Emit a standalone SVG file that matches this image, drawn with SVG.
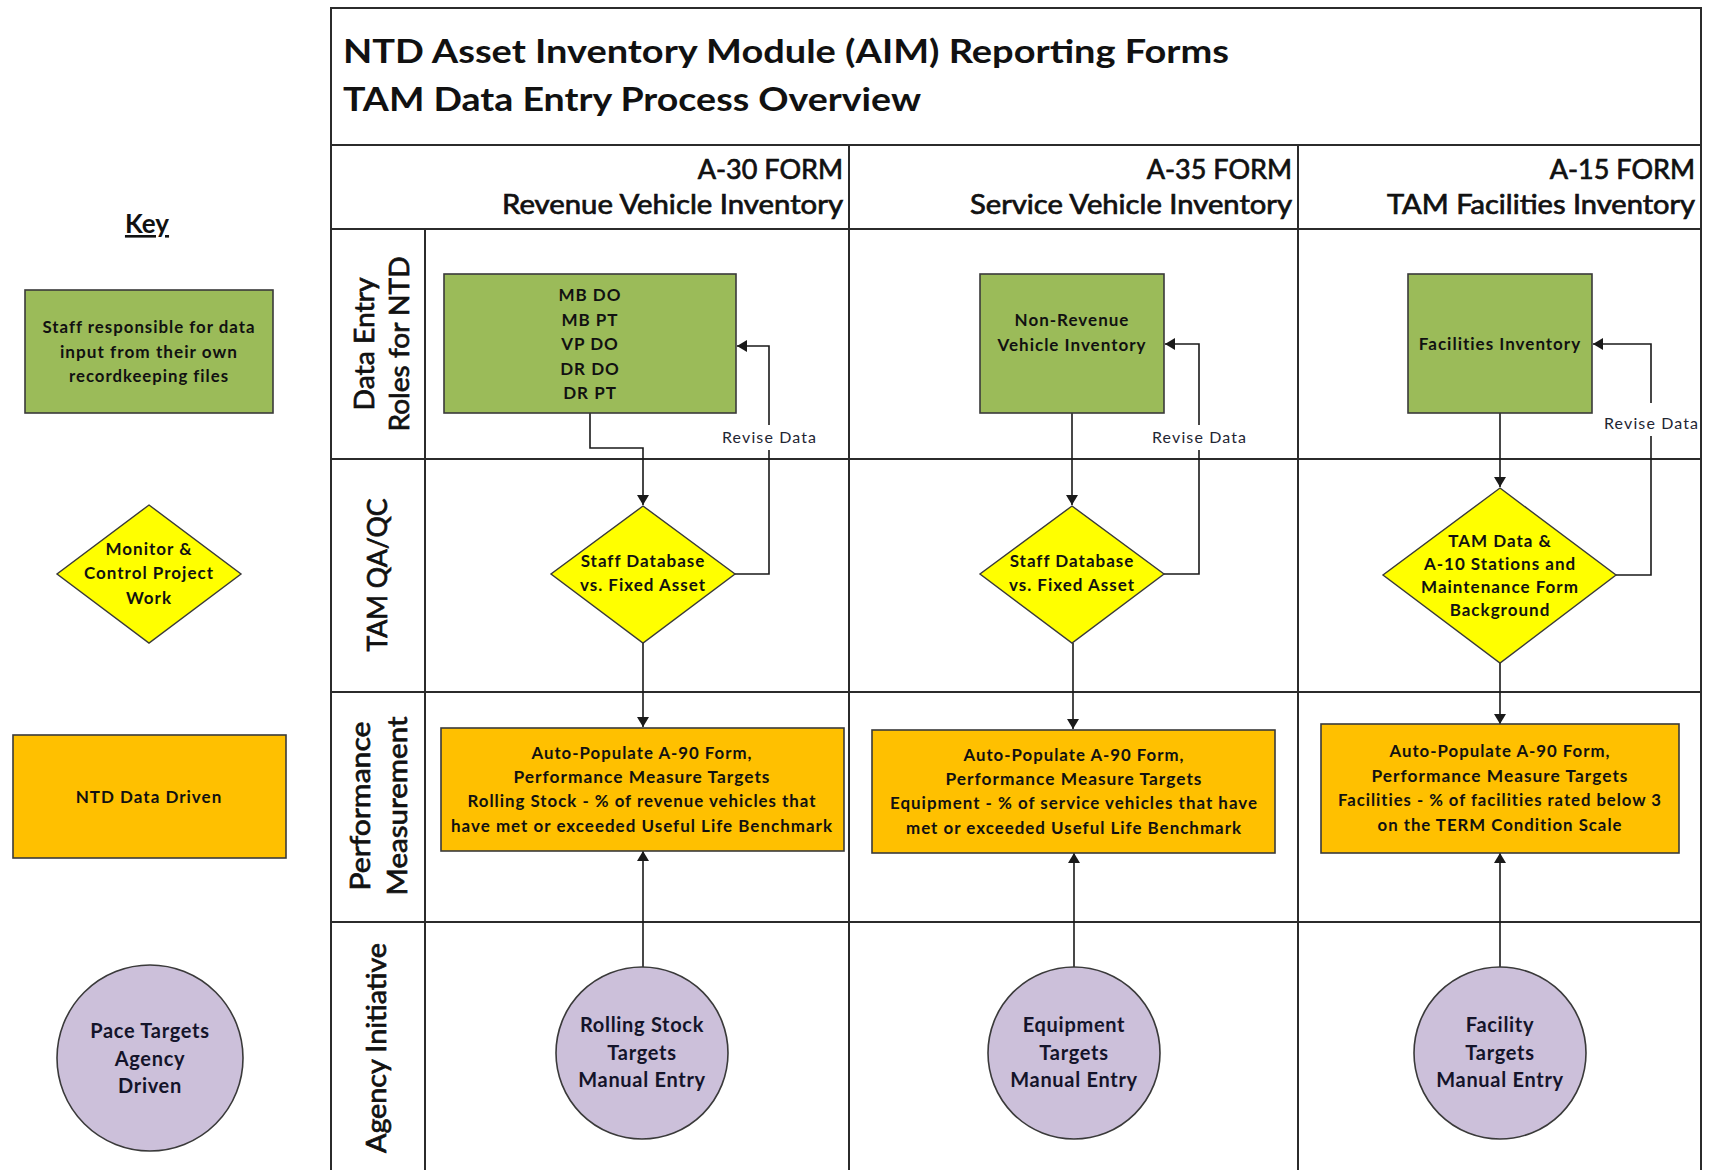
<svg xmlns="http://www.w3.org/2000/svg" width="1709" height="1170" viewBox="0 0 1709 1170">
  <defs>
    <marker id="arrow" markerUnits="userSpaceOnUse" markerWidth="10" markerHeight="12" refX="10" refY="6" orient="auto">
      <path d="M0,0 L10,6 L0,12 z" fill="#1a1a1a"/>
    </marker>
    <style>
      .grid { stroke: #2b2b2b; stroke-width: 2; fill: none; }
      .green { fill: #9BBB59; stroke: #3a3a3a; stroke-width: 1.6; }
      .yellow { fill: #FFFF00; stroke: #3a3a3a; stroke-width: 1.4; }
      .orange { fill: #FFC000; stroke: #3a3a3a; stroke-width: 1.6; }
      .purple { fill: #CCC0DA; stroke: #3a3a3a; stroke-width: 1.6; }
      .conn { stroke: #1a1a1a; stroke-width: 1.6; fill: none; }
      text { font-family: "Lato", "Liberation Sans", sans-serif; fill: #111; }
      .title { font-size: 32px; font-weight: 700; }
      .head { font-size: 27px; font-weight: 400; text-anchor: end; stroke: #111; stroke-width: 0.7; }
      .lane { font-size: 27px; font-weight: 400; text-anchor: middle; stroke: #111; stroke-width: 0.7; }
      .node { font-size: 17px; font-weight: 700; text-anchor: middle; letter-spacing: 1px; }
      .circ { font-size: 20px; font-weight: 700; text-anchor: middle; fill: #14142a; letter-spacing: 0.7px; }
      .label { font-size: 16px; font-weight: 400; text-anchor: middle; fill: #1f2633; }
      .key { font-size: 26px; font-weight: 700; text-anchor: middle; text-decoration: underline; }
    </style>
  </defs>

  <rect x="0" y="0" width="1709" height="1170" fill="#ffffff"/>

  <!-- swimlane frame -->
  <g id="frame">
    <path class="grid" d="M331,1170 V8 H1701 V1170"/>
    <line class="grid" x1="331" y1="145" x2="1701" y2="145"/>
    <line class="grid" x1="331" y1="229" x2="1701" y2="229"/>
    <line class="grid" x1="331" y1="459" x2="1701" y2="459"/>
    <line class="grid" x1="331" y1="692" x2="1701" y2="692"/>
    <line class="grid" x1="331" y1="922" x2="1701" y2="922"/>
    <line class="grid" x1="425" y1="229" x2="425" y2="1170"/>
    <line class="grid" x1="849" y1="145" x2="849" y2="1170"/>
    <line class="grid" x1="1298" y1="145" x2="1298" y2="1170"/>
  </g>

  <!-- title -->
  <g id="title">
    <text class="title" x="343" y="63" textLength="886" lengthAdjust="spacingAndGlyphs">NTD Asset Inventory Module (AIM) Reporting Forms</text>
    <text class="title" x="343" y="111" textLength="578" lengthAdjust="spacingAndGlyphs">TAM Data Entry Process Overview</text>
  </g>

  <!-- column headers -->
  <g id="header-a30">
    <text class="head" x="843" y="179">A-30 FORM</text>
    <text class="head" x="843" y="214" textLength="341" lengthAdjust="spacingAndGlyphs">Revenue Vehicle Inventory</text>
  </g>
  <g id="header-a35">
    <text class="head" x="1292" y="179">A-35 FORM</text>
    <text class="head" x="1292" y="214" textLength="322" lengthAdjust="spacingAndGlyphs">Service Vehicle Inventory</text>
  </g>
  <g id="header-a15">
    <text class="head" x="1695" y="179">A-15 FORM</text>
    <text class="head" x="1695" y="214" textLength="308" lengthAdjust="spacingAndGlyphs">TAM Facilities Inventory</text>
  </g>

  <!-- lane labels -->
  <g id="lane-data-entry">
    <text class="lane" transform="translate(374,344) rotate(-90)" textLength="133" lengthAdjust="spacingAndGlyphs">Data Entry</text>
    <text class="lane" transform="translate(409,344) rotate(-90)" textLength="175" lengthAdjust="spacingAndGlyphs">Roles for NTD</text>
  </g>
  <g id="lane-qaqc">
    <text class="lane" transform="translate(387,575) rotate(-90)" textLength="153" lengthAdjust="spacingAndGlyphs">TAM QA/QC</text>
  </g>
  <g id="lane-performance">
    <text class="lane" transform="translate(370,806) rotate(-90)" textLength="169" lengthAdjust="spacingAndGlyphs">Performance</text>
    <text class="lane" transform="translate(407,806) rotate(-90)" textLength="179" lengthAdjust="spacingAndGlyphs">Measurement</text>
  </g>
  <g id="lane-agency">
    <text class="lane" transform="translate(386,1048) rotate(-90)" textLength="210" lengthAdjust="spacingAndGlyphs">Agency Initiative</text>
  </g>

  <!-- key -->
  <g id="key-title">
    <text class="key" x="147" y="233">Key</text>
  </g>
  <g id="key-staff">
    <rect class="green" x="25" y="290" width="248" height="123"/>
    <text class="node" x="149" y="333" textLength="213" lengthAdjust="spacingAndGlyphs">Staff responsible for data</text>
    <text class="node" x="149" y="358" textLength="178" lengthAdjust="spacingAndGlyphs">input from their own</text>
    <text class="node" x="149" y="382" textLength="160" lengthAdjust="spacingAndGlyphs">recordkeeping files</text>
  </g>
  <g id="key-monitor">
    <polygon class="yellow" points="149,505 241,574 149,643 57,574"/>
    <text class="node" x="149" y="555">Monitor &amp;</text>
    <text class="node" x="149" y="579">Control Project</text>
    <text class="node" x="149" y="604">Work</text>
  </g>
  <g id="key-ntd">
    <rect class="orange" x="13" y="735" width="273" height="123"/>
    <text class="node" x="149" y="803">NTD Data Driven</text>
  </g>
  <g id="key-pace">
    <circle class="purple" cx="150" cy="1058" r="93"/>
    <text class="circ" x="150" y="1038">Pace Targets</text>
    <text class="circ" x="150" y="1066">Agency</text>
    <text class="circ" x="150" y="1093">Driven</text>
  </g>

  <!-- connectors -->
  <g id="connectors">
    <path class="conn" d="M590,413 V448 H643 V505" marker-end="url(#arrow)"/>
    <path class="conn" d="M735,574 H769 V346 H737" marker-end="url(#arrow)"/>
    <path class="conn" d="M643,643 V727" marker-end="url(#arrow)"/>
    <path class="conn" d="M643,967 V851" marker-end="url(#arrow)"/>

    <path class="conn" d="M1072,413 V505" marker-end="url(#arrow)"/>
    <path class="conn" d="M1164,574 H1199 V344 H1165" marker-end="url(#arrow)"/>
    <path class="conn" d="M1073,643 V729" marker-end="url(#arrow)"/>
    <path class="conn" d="M1074,967 V853" marker-end="url(#arrow)"/>

    <path class="conn" d="M1500,413 V487" marker-end="url(#arrow)"/>
    <path class="conn" d="M1616,575 H1651 V344 H1593" marker-end="url(#arrow)"/>
    <path class="conn" d="M1500,663 V724" marker-end="url(#arrow)"/>
    <path class="conn" d="M1500,967 V853" marker-end="url(#arrow)"/>

    <rect x="720" y="425" width="98" height="25" fill="#ffffff"/>
    <text class="label" x="769" y="443" textLength="94" lengthAdjust="spacing">Revise Data</text>
    <rect x="1150" y="425" width="98" height="25" fill="#ffffff"/>
    <text class="label" x="1199" y="443" textLength="94" lengthAdjust="spacing">Revise Data</text>
    <rect x="1602" y="403" width="98" height="33" fill="#ffffff"/>
    <text class="label" x="1651" y="429" textLength="94" lengthAdjust="spacing">Revise Data</text>
  </g>

  <!-- A-30 column -->
  <g id="a30-roles">
    <rect class="green" x="444" y="274" width="292" height="139"/>
    <text class="node" x="590" y="301">MB DO</text>
    <text class="node" x="590" y="326">MB PT</text>
    <text class="node" x="590" y="350">VP DO</text>
    <text class="node" x="590" y="375">DR DO</text>
    <text class="node" x="590" y="399">DR PT</text>
  </g>
  <g id="a30-check">
    <polygon class="yellow" points="643,506 735,574 643,643 551,574"/>
    <text class="node" x="643" y="567">Staff Database</text>
    <text class="node" x="643" y="591">vs. Fixed Asset</text>
  </g>
  <g id="a30-targets">
    <rect class="orange" x="441" y="728" width="403" height="123"/>
    <text class="node" x="642" y="759" textLength="221" lengthAdjust="spacingAndGlyphs">Auto-Populate A-90 Form,</text>
    <text class="node" x="642" y="783" textLength="257" lengthAdjust="spacingAndGlyphs">Performance Measure Targets</text>
    <text class="node" x="642" y="807" textLength="349" lengthAdjust="spacingAndGlyphs">Rolling Stock - % of revenue vehicles that</text>
    <text class="node" x="642" y="832" textLength="382" lengthAdjust="spacingAndGlyphs">have met or exceeded Useful Life Benchmark</text>
  </g>
  <g id="a30-manual">
    <circle class="purple" cx="642" cy="1053" r="86"/>
    <text class="circ" x="642" y="1032">Rolling Stock</text>
    <text class="circ" x="642" y="1060">Targets</text>
    <text class="circ" x="642" y="1087">Manual Entry</text>
  </g>

  <!-- A-35 column -->
  <g id="a35-roles">
    <rect class="green" x="980" y="274" width="184" height="139"/>
    <text class="node" x="1072" y="326">Non-Revenue</text>
    <text class="node" x="1072" y="351">Vehicle Inventory</text>
  </g>
  <g id="a35-check">
    <polygon class="yellow" points="1072,506 1164,574 1072,643 980,574"/>
    <text class="node" x="1072" y="567">Staff Database</text>
    <text class="node" x="1072" y="591">vs. Fixed Asset</text>
  </g>
  <g id="a35-targets">
    <rect class="orange" x="872" y="730" width="403" height="123"/>
    <text class="node" x="1074" y="761" textLength="221" lengthAdjust="spacingAndGlyphs">Auto-Populate A-90 Form,</text>
    <text class="node" x="1074" y="785" textLength="257" lengthAdjust="spacingAndGlyphs">Performance Measure Targets</text>
    <text class="node" x="1074" y="809" textLength="368" lengthAdjust="spacingAndGlyphs">Equipment - % of service vehicles that have</text>
    <text class="node" x="1074" y="834" textLength="336" lengthAdjust="spacingAndGlyphs">met or exceeded Useful Life Benchmark</text>
  </g>
  <g id="a35-manual">
    <circle class="purple" cx="1074" cy="1053" r="86"/>
    <text class="circ" x="1074" y="1032">Equipment</text>
    <text class="circ" x="1074" y="1060">Targets</text>
    <text class="circ" x="1074" y="1087">Manual Entry</text>
  </g>

  <!-- A-15 column -->
  <g id="a15-roles">
    <rect class="green" x="1408" y="274" width="184" height="139"/>
    <text class="node" x="1500" y="350">Facilities Inventory</text>
  </g>
  <g id="a15-check">
    <polygon class="yellow" points="1500,488 1616,575 1500,663 1383,575"/>
    <text class="node" x="1500" y="547">TAM Data &amp;</text>
    <text class="node" x="1500" y="570">A-10 Stations and</text>
    <text class="node" x="1500" y="593">Maintenance Form</text>
    <text class="node" x="1500" y="616">Background</text>
  </g>
  <g id="a15-targets">
    <rect class="orange" x="1321" y="724" width="358" height="129"/>
    <text class="node" x="1500" y="757" textLength="221" lengthAdjust="spacingAndGlyphs">Auto-Populate A-90 Form,</text>
    <text class="node" x="1500" y="782" textLength="257" lengthAdjust="spacingAndGlyphs">Performance Measure Targets</text>
    <text class="node" x="1500" y="806" textLength="324" lengthAdjust="spacingAndGlyphs">Facilities - % of facilities rated below 3</text>
    <text class="node" x="1500" y="831" textLength="245" lengthAdjust="spacingAndGlyphs">on the TERM Condition Scale</text>
  </g>
  <g id="a15-manual">
    <circle class="purple" cx="1500" cy="1053" r="86"/>
    <text class="circ" x="1500" y="1032">Facility</text>
    <text class="circ" x="1500" y="1060">Targets</text>
    <text class="circ" x="1500" y="1087">Manual Entry</text>
  </g>
</svg>
